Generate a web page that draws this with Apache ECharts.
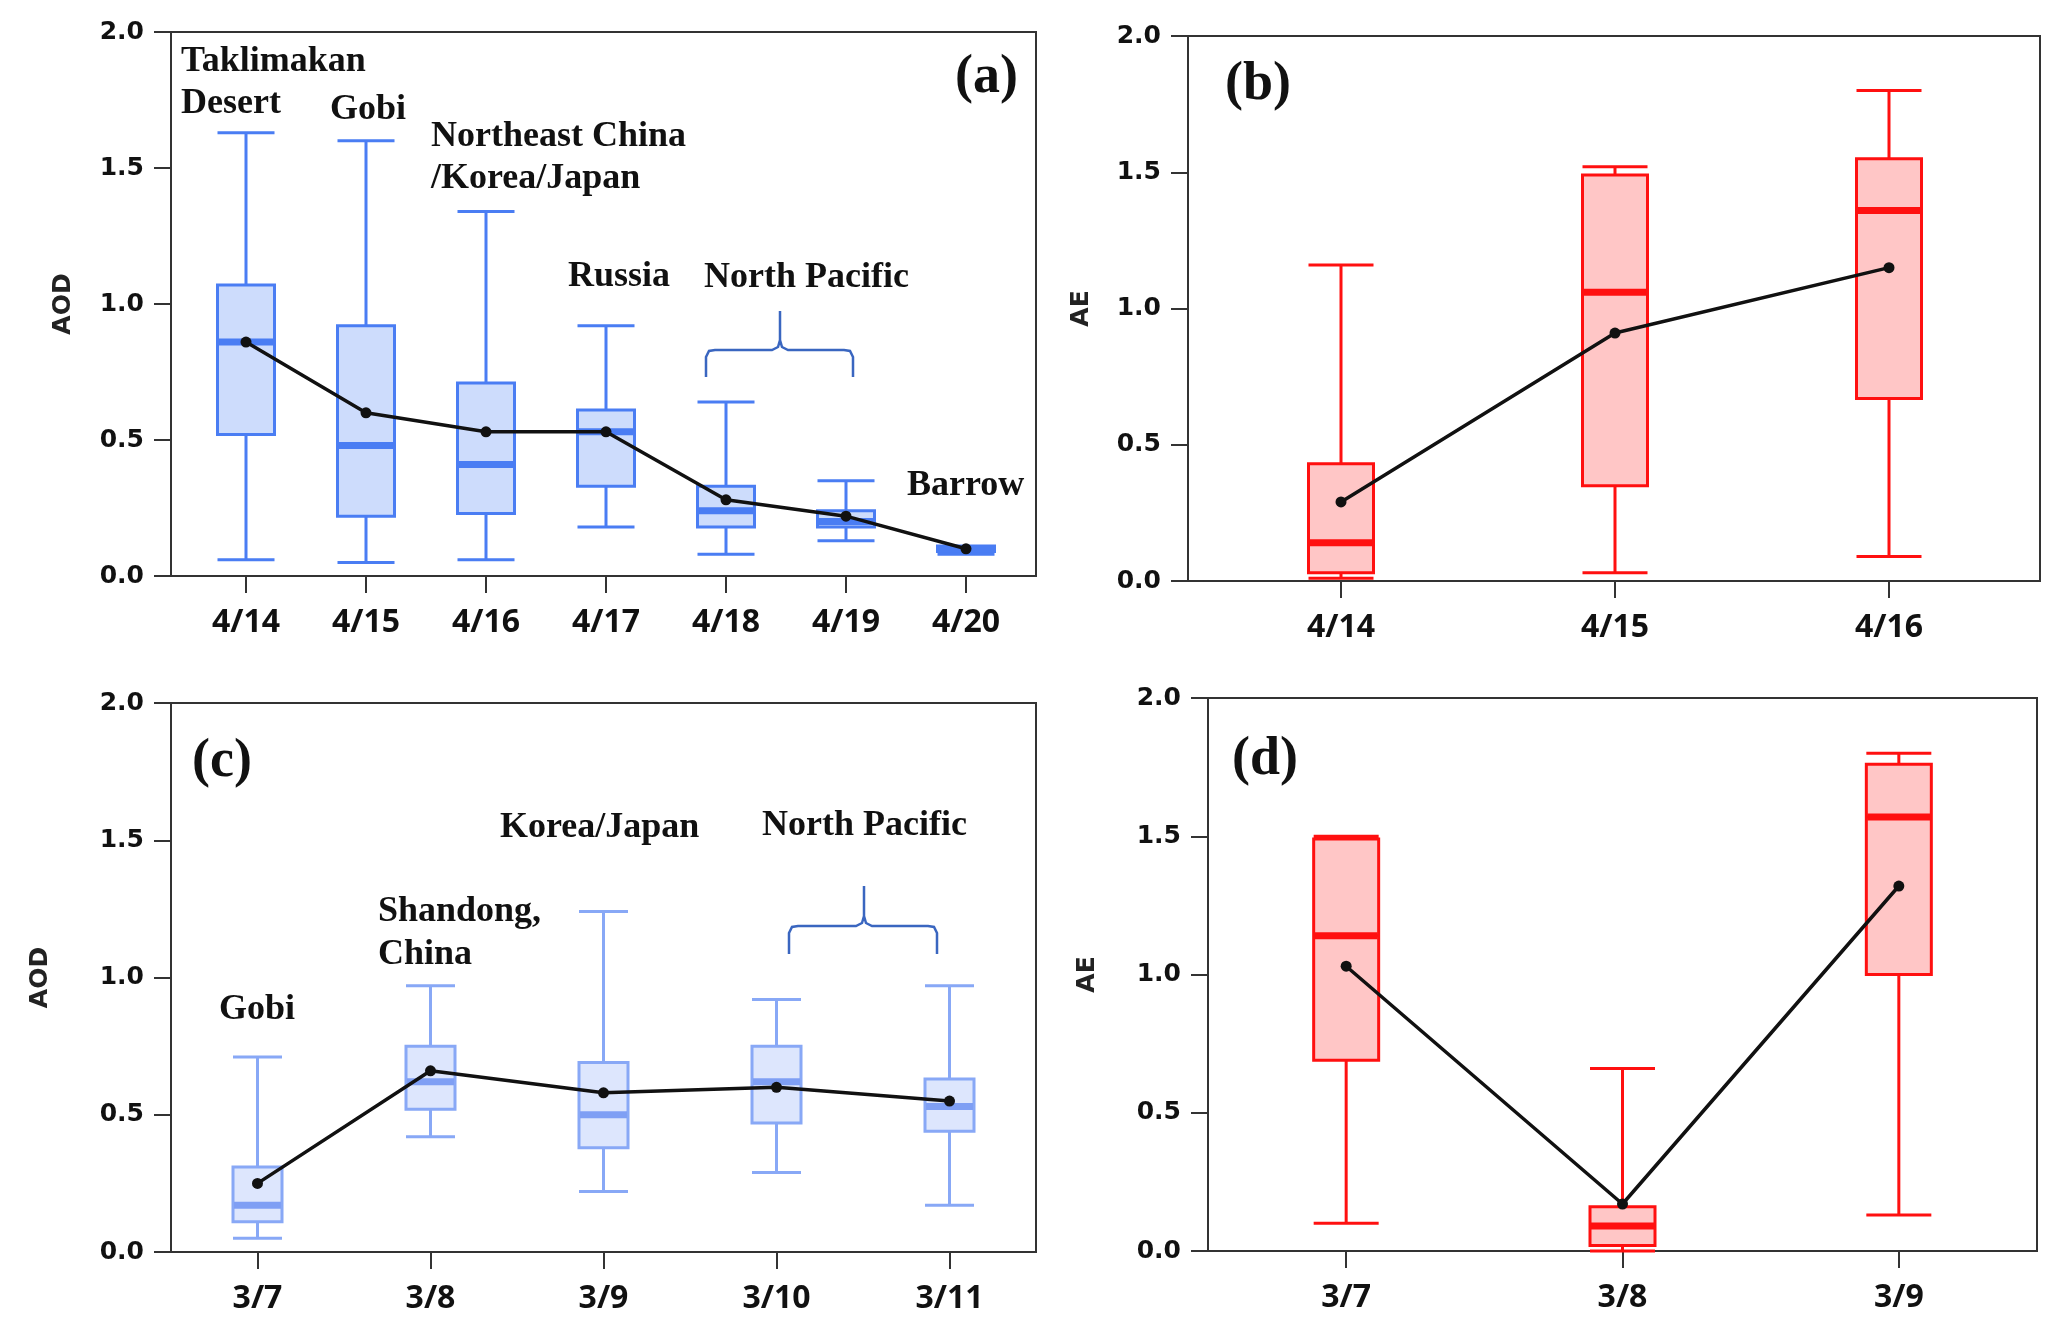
<!DOCTYPE html>
<html>
<head>
<meta charset="utf-8">
<script src="https://cdn.jsdelivr.net/npm/echarts@6/dist/echarts.min.js"></script>
<style>
  html, body { margin: 0; padding: 0; background: #fff; }
  #main { width: 2067px; height: 1343px; }
</style>
</head>
<body>
<div id="main"></div>
<script>
// (a) AOD, April case
var catsA = ['4/14', '4/15', '4/16', '4/17', '4/18', '4/19', '4/20'];
// [min, Q1, median, Q3, max]
var boxA = [
    [0.06, 0.52, 0.86, 1.07, 1.63],
    [0.05, 0.22, 0.48, 0.92, 1.60],
    [0.06, 0.23, 0.41, 0.71, 1.34],
    [0.18, 0.33, 0.53, 0.61, 0.92],
    [0.08, 0.18, 0.24, 0.33, 0.64],
    [0.13, 0.18, 0.20, 0.24, 0.35],
    [0.08, 0.09, 0.10, 0.11, 0.11]
];
var meanA = [0.86, 0.60, 0.53, 0.53, 0.28, 0.22, 0.10];

// (b) AE, April case
var catsB = ['4/14', '4/15', '4/16'];
var boxB = [
    [0.01, 0.03, 0.14, 0.43, 1.16],
    [0.03, 0.35, 1.06, 1.49, 1.52],
    [0.09, 0.67, 1.36, 1.55, 1.80]
];
var meanB = [0.29, 0.91, 1.15];

// (c) AOD, March case
var catsC = ['3/7', '3/8', '3/9', '3/10', '3/11'];
var boxC = [
    [0.05, 0.11, 0.17, 0.31, 0.71],
    [0.42, 0.52, 0.62, 0.75, 0.97],
    [0.22, 0.38, 0.50, 0.69, 1.24],
    [0.29, 0.47, 0.62, 0.75, 0.92],
    [0.17, 0.44, 0.53, 0.63, 0.97]
];
var meanC = [0.25, 0.66, 0.58, 0.60, 0.55];

// (d) AE, March case
var catsD = ['3/7', '3/8', '3/9'];
var boxD = [
    [0.10, 0.69, 1.14, 1.49, 1.50],
    [0.00, 0.02, 0.09, 0.16, 0.66],
    [0.13, 1.00, 1.57, 1.76, 1.80]
];
var meanD = [1.03, 0.17, 1.32];

var myChart = echarts.init(document.getElementById('main'));

var axisCol = '#333';
var panels = [
    {cats: catsA, box: boxA, mean: meanA, name: 'AOD', nameGap: 95,
     frame: {left: 171, top: 32, width: 865, height: 544}, dataLeft: 186, dataWidth: 840,
     bw: 57, stroke: '#4a7df3', fill: '#cddcfc', med: '#4a7df3'},
    {cats: catsB, box: boxB, mean: meanB, name: 'AE', nameGap: 94,
     frame: {left: 1188, top: 36, width: 852, height: 545}, dataLeft: 1204, dataWidth: 822,
     bw: 65, stroke: '#ff1010', fill: '#ffc6c6', med: '#ff1010'},
    {cats: catsC, box: boxC, mean: meanC, name: 'AOD', nameGap: 118,
     frame: {left: 171, top: 703, width: 865, height: 549}, dataLeft: 171, dataWidth: 865,
     bw: 49, stroke: '#88a8f6', fill: '#dde6fd', med: '#7f9ff4'},
    {cats: catsD, box: boxD, mean: meanD, name: 'AE', nameGap: 108,
     frame: {left: 1208, top: 698, width: 829, height: 553}, dataLeft: 1208, dataWidth: 829,
     bw: 65, stroke: '#ff1010', fill: '#ffc6c6', med: '#ff1010'}
];

var grids = [], xAxes = [], yAxes = [], series = [];
panels.forEach(function (p, k) {
    var fi = k * 2, di = k * 2 + 1;
    // frame grid: border box + y axis with labels
    grids.push({left: p.frame.left, top: p.frame.top, width: p.frame.width, height: p.frame.height,
        show: true, borderColor: axisCol, borderWidth: 2, containLabel: false});
    xAxes.push({gridIndex: fi, type: 'value', show: false, min: 0, max: 1});
    yAxes.push({gridIndex: fi, type: 'value', min: 0, max: 2, interval: 0.5,
        name: p.name, nameLocation: 'middle', nameGap: p.nameGap,
        nameTextStyle: {fontFamily: 'DejaVu Sans', fontWeight: 'bold', fontSize: 25, color: '#222'},
        axisLine: {show: true, lineStyle: {color: axisCol, width: 2}},
        axisTick: {show: true, inside: false, length: 17, lineStyle: {color: axisCol, width: 2}},
        axisLabel: {margin: 27, fontFamily: 'DejaVu Sans', fontWeight: 'bold', fontSize: 25, color: '#111',
            formatter: function (v) { return v.toFixed(1); }},
        splitLine: {show: false}
    });
    // data grid: category axis carrying the boxes
    grids.push({left: p.dataLeft, top: p.frame.top, width: p.dataWidth, height: p.frame.height});
    xAxes.push({gridIndex: di, type: 'category', data: p.cats, boundaryGap: true,
        axisLine: {show: true, lineStyle: {color: axisCol, width: 2}},
        axisTick: {show: true, alignWithLabel: true, length: 17, lineStyle: {color: axisCol, width: 2}},
        axisLabel: {margin: 31, fontFamily: 'Open Sans', fontWeight: 'bold', fontSize: 32, color: '#111'},
        splitLine: {show: false}
    });
    yAxes.push({gridIndex: di, type: 'value', min: 0, max: 2, show: false});

    series.push({
        type: 'boxplot', xAxisIndex: di, yAxisIndex: di,
        data: p.box, boxWidth: [p.bw, p.bw],
        itemStyle: {color: p.fill, borderColor: p.stroke, borderWidth: 3},
        emphasis: {disabled: true}, z: 2
    });
    // thick median bar
    (function (bw, col) {
        series.push({
            type: 'custom', xAxisIndex: di, yAxisIndex: di, z: 3,
            data: p.box.map(function (b, i) { return [i, b[2]]; }),
            renderItem: function (params, api) {
                var c = api.coord([api.value(0), api.value(1)]);
                return {type: 'line', shape: {x1: c[0] - bw / 2 + 1, y1: c[1], x2: c[0] + bw / 2 - 1, y2: c[1]},
                    style: {stroke: col, lineWidth: 7}};
            }
        });
    })(p.bw, p.med);
    series.push({
        type: 'line', xAxisIndex: di, yAxisIndex: di, z: 5,
        data: p.mean, symbol: 'circle', symbolSize: 11,
        lineStyle: {color: '#111', width: 3.5}, itemStyle: {color: '#111'},
        emphasis: {disabled: true}
    });
});

function label(txt, x, y, size) {
    return {type: 'text', x: x, y: y, z: 10,
        style: {text: txt, font: 'bold ' + (size || 36) + 'px "Liberation Serif"', fill: '#111', verticalAlign: 'middle'}};
}
function brace(l, r, mid, yBot, yMid, yTop) {
    return {type: 'polyline', z: 10,
        shape: {points: [[l, yBot], [l, yMid + 7], [l + 3, yMid + 1], [l + 9, yMid], [mid - 8, yMid], [mid - 2, yMid - 3],
            [mid, yMid - 10], [mid, yTop], [mid, yMid - 10], [mid + 2, yMid - 3], [mid + 8, yMid],
            [r - 9, yMid], [r - 3, yMid + 1], [r, yMid + 7], [r, yBot]]},
        style: {stroke: '#3a66c0', lineWidth: 2.5, fill: null}};
}

var graphics = [
    label('Taklimakan', 181, 62), label('Desert', 181, 104),
    label('Gobi', 330, 110),
    label('Northeast China', 431, 137), label('/Korea/Japan', 431, 179),
    label('Russia', 568, 277),
    label('North Pacific', 704, 278),
    brace(706, 853, 780, 377, 350, 311),
    label('Barrow', 907, 486),
    label('(a)', 955, 78, 54),
    label('(b)', 1225, 85, 54),
    label('(c)', 192, 762, 54),
    label('Gobi', 219, 1010),
    label('Shandong,', 378, 912), label('China', 378, 955),
    label('Korea/Japan', 500, 828),
    label('North Pacific', 762, 826),
    brace(789, 937, 864, 954, 926, 886),
    label('(d)', 1232, 760, 54)
];

var option = {
    animation: false,
    backgroundColor: '#fff',
    grid: grids,
    xAxis: xAxes,
    yAxis: yAxes,
    series: series,
    graphic: graphics
};
myChart.setOption(option);
</script>
</body>
</html>
